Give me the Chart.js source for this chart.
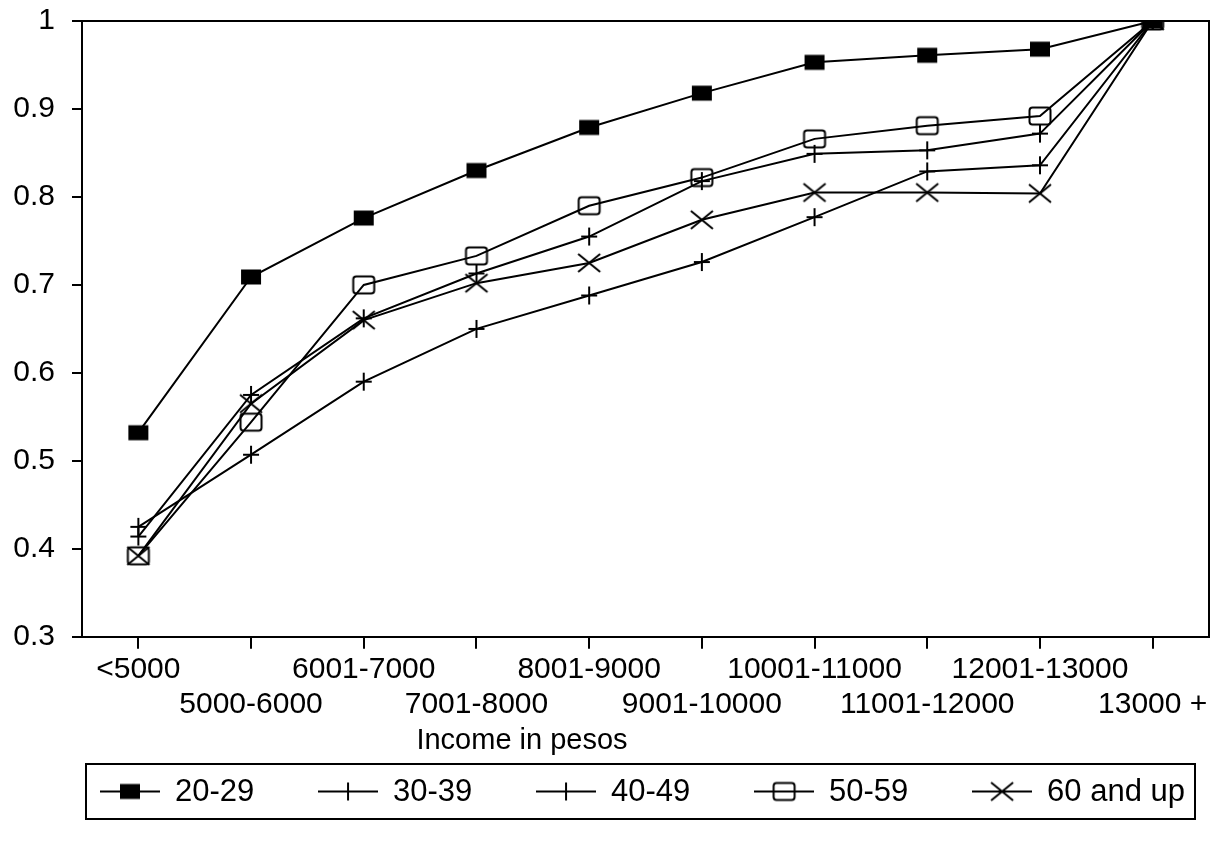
<!DOCTYPE html>
<html>
<head>
<meta charset="utf-8">
<script src="https://cdn.jsdelivr.net/npm/chart.js@4.4.0/dist/chart.umd.min.js"></script>
<style>
    html, body { margin: 0; padding: 0; background: #fff; }
    #wrap { width: 1221px; height: 842px; }
</style>
</head>
<body>
<div id="wrap"><canvas id="incomeChart" width="1221" height="842"></canvas></div>
<script>
// Categories and values
const incomeLabels = [
    "<5000", "5000-6000", "6001-7000", "7001-8000", "8001-9000",
    "9001-10000", "10001-11000", "11001-12000", "12001-13000", "13000 +",
];
const yTickValues = [0.3, 0.4, 0.5, 0.6, 0.7, 0.8, 0.9, 1];
const axisTitle = "Income in pesos";

const age20to29 = [0.532, 0.709, 0.776, 0.830, 0.879, 0.918, 0.953, 0.961, 0.968, 1.0];
const age30to39 = [0.414, 0.575, 0.662, 0.713, 0.755, 0.818, 0.849, 0.853, 0.872, 1.0];
const age40to49 = [0.425, 0.507, 0.590, 0.650, 0.688, 0.726, 0.777, 0.829, 0.836, 1.0];
const age50to59 = [0.392, 0.544, 0.700, 0.733, 0.790, 0.822, 0.866, 0.881, 0.892, 1.0];
const age60up = [0.392, 0.565, 0.660, 0.702, 0.725, 0.774, 0.805, 0.805, 0.804, 1.0];

const seriesNames = ["20-29", "30-39", "40-49", "50-59", "60 and up"];
const seriesMarkers = ["filled", "plus", "plus", "box", "x"];

const FONT = "'Liberation Sans', Arial, sans-serif";

// Draw one marker shape centred at cx, cy
const drawMarker = (g, kind, cx, cy) => {
    g.strokeStyle = "#000";
    g.fillStyle = "#000";
    g.lineWidth = 2;
    g.beginPath();
    if (kind === "filled") {
        g.fillRect(cx - 10, cy - 7.5, 20, 15);
    } else if (kind === "box") {
        g.roundRect(cx - 10.5, cy - 8.5, 21, 17, 3);
        g.stroke();
    } else if (kind === "plus") {
        g.moveTo(cx - 8, cy);
        g.lineTo(cx + 8, cy);
        g.moveTo(cx, cy - 9);
        g.lineTo(cx, cy + 9);
        g.stroke();
    } else if (kind === "x") {
        g.moveTo(cx - 11, cy - 9);
        g.lineTo(cx + 11, cy + 9);
        g.moveTo(cx + 11, cy - 9);
        g.lineTo(cx - 11, cy + 9);
        g.stroke();
    }
};

const makePointImage = (kind) => {
    const c = document.createElement("canvas");
    c.width = 26;
    c.height = 24;
    drawMarker(c.getContext("2d"), kind, 13, 12);
    return c;
};

const makeLegendImage = (kind) => {
    const c = document.createElement("canvas");
    c.width = 60;
    c.height = 24;
    const g = c.getContext("2d");
    g.strokeStyle = "#000";
    g.lineWidth = 2;
    g.beginPath();
    g.moveTo(0, 12);
    g.lineTo(60, 12);
    g.stroke();
    drawMarker(g, kind, 30, 12);
    return c;
};

const seriesValues = [age20to29, age30to39, age40to49, age50to59, age60up];

const datasets = seriesNames.map((name, i) => ({
    label: name,
    data: seriesValues[i],
    borderColor: "#000",
    borderWidth: 2,
    backgroundColor: "#000",
    pointStyle: makePointImage(seriesMarkers[i]),
    pointRadius: 10,
    tension: 0,
    fill: false,
}));

// Frame on top and right, axis title, and the boxed legend
const framePlugin = {
    id: "frame",
    afterDraw(chart) {
        const { ctx, chartArea } = chart;
        ctx.save();
        ctx.strokeStyle = "#000";
        ctx.lineWidth = 2;
        ctx.beginPath();
        ctx.moveTo(chartArea.left - 10, chartArea.top);
        ctx.lineTo(chartArea.right, chartArea.top);
        ctx.lineTo(chartArea.right, chartArea.bottom);
        ctx.stroke();

        ctx.font = "29px " + FONT;
        ctx.fillStyle = "#000";
        ctx.textBaseline = "middle";
        ctx.textAlign = "center";
        ctx.fillText(axisTitle, 522, 741);

        // legend box
        const box = { left: 86, top: 764, right: 1195, bottom: 819 };
        ctx.strokeRect(box.left, box.top, box.right - box.left, box.bottom - box.top);

        ctx.font = "31px " + FONT;
        ctx.textAlign = "left";
        const markW = 60;
        const gap = 15;
        const widths = seriesNames.map((n) => markW + gap + ctx.measureText(n).width);
        const inner = box.right - box.left - 24;
        const spacing = (inner - widths.reduce((a, b) => a + b, 0)) / (widths.length - 1);
        const midY = (box.top + box.bottom) / 2;
        let x = box.left + 14;
        seriesNames.forEach((name, i) => {
            ctx.drawImage(makeLegendImage(seriesMarkers[i]), x, midY - 12);
            ctx.fillText(name, x + markW + gap, midY + 1);
            x += widths[i] + spacing;
        });
        ctx.restore();
    },
};

Chart.defaults.font.family = FONT;
Chart.defaults.color = "#000";

new Chart(document.getElementById("incomeChart"), {
    type: "line",
    data: { labels: incomeLabels, datasets: datasets },
    plugins: [framePlugin],
    options: {
        responsive: false,
        animation: false,
        devicePixelRatio: 1,
        layout: { padding: { top: 21, right: 11, bottom: 117, left: 0 } },
        plugins: {
            legend: { display: false },
            tooltip: { enabled: false },
        },
        scales: {
            x: {
                type: "category",
                offset: true,
                grid: {
                    offset: false,
                    drawOnChartArea: false,
                    color: "#000",
                    lineWidth: 2,
                    tickLength: 12,
                },
                border: { color: "#000", width: 2 },
                ticks: {
                    autoSkip: false,
                    maxRotation: 0,
                    minRotation: 0,
                    padding: 3,
                    color: "#000",
                    font: { size: 30, lineHeight: 1.17 },
                    callback: function (value, index) {
                        const label = this.getLabelForValue(value);
                        return index % 2 === 0 ? [label, ""] : ["", label];
                    },
                },
            },
            y: {
                min: 0.3,
                max: 1,
                afterBuildTicks: (scale) => {
                    scale.ticks = yTickValues.map((v) => ({ value: v }));
                },
                afterFit: (scale) => {
                    scale.width = 82;
                    scale.paddingTop = 0;
                    scale.paddingBottom = 0;
                },
                grid: {
                    drawOnChartArea: false,
                    color: "#000",
                    lineWidth: 2,
                    tickLength: 10,
                },
                border: { color: "#000", width: 2 },
                ticks: {
                    padding: 17,
                    color: "#000",
                    font: { size: 30, lineHeight: 1.17 },
                    callback: (v) => (v === 1 ? "1" : v.toFixed(1)),
                },
            },
        },
    },
});
</script>
</body>
</html>
